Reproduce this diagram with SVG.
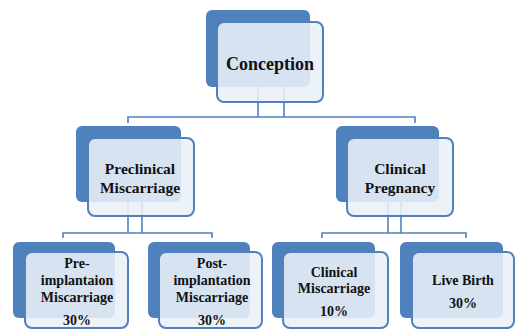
<svg xmlns="http://www.w3.org/2000/svg" width="515" height="330" viewBox="0 0 515 330">
<style>
.back{fill:#4F81BD}
.front{fill:#EBF0F8;fill-opacity:0.88;stroke:#4F81BD;stroke-width:2}
.conn{fill:none;stroke:#4F81BD;stroke-width:1.6}
.lbl{font-family:'Liberation Serif','DejaVu Serif',serif;font-weight:bold;fill:#111;text-anchor:middle}
.t1{font-size:18px}
.t2{font-size:15.5px}
.t3{font-size:14px}
</style>
<rect width="515" height="330" fill="#fff"/>
<g id="connectors">
<path class="conn" d="M258,87V117M284,87V117M128,123V117H415V123"/>
<path class="conn" d="M128,202V233M142,202V233M63,238V233H212V238"/>
<path class="conn" d="M388,202V233M401,202V233M322,238V233H466V238"/>
</g>
<g id="conception">
<rect class="back" x="206" y="10" width="104" height="77" rx="6"/>
<rect class="front" x="217" y="22" width="106" height="80" rx="7"/>
<text class="lbl t1" x="270" y="70">Conception</text>
</g>
<g id="preclinical">
<rect class="back" x="76" y="126" width="105" height="76" rx="6"/>
<rect class="front" x="88" y="138" width="106" height="78" rx="7"/>
<text class="lbl t2" x="140" y="174">Preclinical</text>
<text class="lbl t2" x="140" y="193">Miscarriage</text>
</g>
<g id="clinical-pregnancy">
<rect class="back" x="336" y="126" width="103" height="76" rx="6"/>
<rect class="front" x="347" y="138" width="106" height="78" rx="7"/>
<text class="lbl t2" x="400" y="174">Clinical</text>
<text class="lbl t2" x="400" y="193">Pregnancy</text>
</g>
<g id="pre-implantation">
<rect class="back" x="13" y="242" width="102" height="76" rx="6"/>
<rect class="front" x="25" y="252" width="103" height="76" rx="7"/>
<text class="lbl t3" x="77" y="268">Pre-</text>
<text class="lbl t3" x="77" y="285">implantaion</text>
<text class="lbl t3" x="77" y="302">Miscarriage</text>
<text class="lbl t3" x="77" y="325">30%</text>
</g>
<g id="post-implantation">
<rect class="back" x="148" y="242" width="102" height="76" rx="6"/>
<rect class="front" x="159" y="252" width="103" height="76" rx="7"/>
<text class="lbl t3" x="212" y="268">Post-</text>
<text class="lbl t3" x="212" y="285">implantation</text>
<text class="lbl t3" x="212" y="302">Miscarriage</text>
<text class="lbl t3" x="212" y="325">30%</text>
</g>
<g id="clinical-miscarriage">
<rect class="back" x="272" y="242" width="103" height="76" rx="6"/>
<rect class="front" x="283" y="252" width="105" height="76" rx="7"/>
<text class="lbl t3" x="334" y="277">Clinical</text>
<text class="lbl t3" x="334" y="293">Miscarriage</text>
<text class="lbl t3" x="334" y="316">10%</text>
</g>
<g id="live-birth">
<rect class="back" x="400" y="242" width="103" height="76" rx="6"/>
<rect class="front" x="412" y="252" width="102" height="76" rx="7"/>
<text class="lbl t3" x="463" y="285">Live Birth</text>
<text class="lbl t3" x="463" y="308">30%</text>
</g>
</svg>
